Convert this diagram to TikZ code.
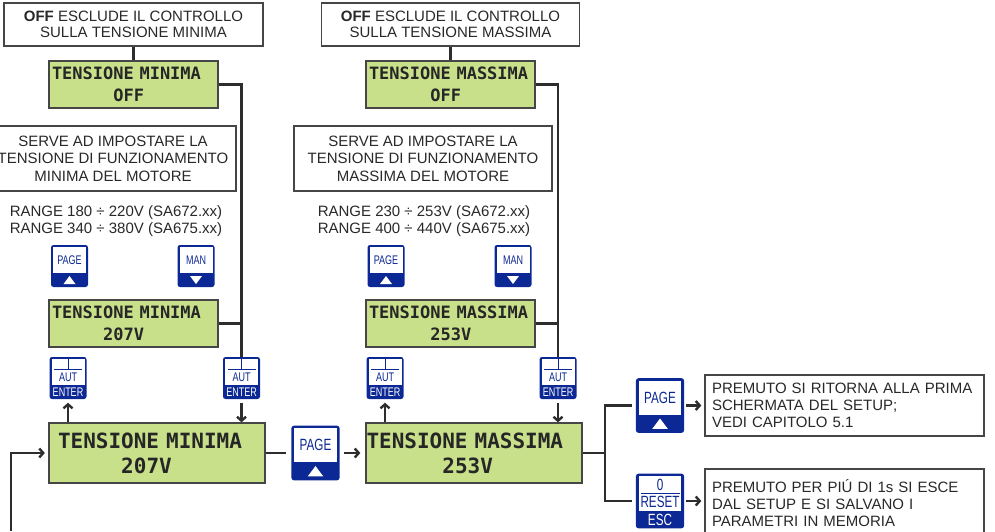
\documentclass[tikz,border=0pt]{standalone}
\usepackage{fontspec}
\setmainfont{Liberation Sans}
\newfontfamily\lcdfont{DejaVu Sans Mono}
\newfontfamily\keyfont[FakeStretch=0.72]{Liberation Sans}
\usetikzlibrary{arrows.meta}

\definecolor{keyblue}{RGB}{12,40,148}
\definecolor{lcdgreen}{RGB}{201,224,139}
\definecolor{lcdedge}{RGB}{70,70,70}
\definecolor{boxedge}{RGB}{70,70,70}
\definecolor{wiregray}{RGB}{45,45,45}
\definecolor{ink}{RGB}{40,40,40}

\newcommand\keypage[3]{%
\begin{scope}[shift={(#2)},scale=#3,transform shape]
\node[key] (#1) at (0,0) {};
\path[fill=white] (-16.5,-19) rectangle (16.5,7);
\node[keytxt,text=keyblue] at (0,-6) {PAGE};
\path[fill=white] (-6,18) -- (6,18) -- (0,10) -- cycle;
\end{scope}}

\newcommand\keyman[3]{%
\begin{scope}[shift={(#2)},scale=#3,transform shape]
\node[key] (#1) at (0,0) {};
\path[fill=white] (-16.5,-19) rectangle (16.5,7);
\node[keytxt,text=keyblue] at (0,-6) {MAN};
\path[fill=white] (-6,10) -- (6,10) -- (0,18) -- cycle;
\end{scope}}

\newcommand\keyenter[3]{%
\begin{scope}[shift={(#2)},scale=#3,transform shape]
\node[key] (#1) at (0,0) {};
\path[fill=white] (-16.5,-19) rectangle (16.5,7);
\path[draw=keyblue,line width=1pt] (0,-19) -- (0,-8.5) (-14,-8.5) -- (14,-8.5);
\node[keytxt,text=keyblue] at (0,-1) {AUT};
\node[keytxt,text=white] at (0,14) {ENTER};
\end{scope}}

\newcommand\keyreset[3]{%
\begin{scope}[shift={(#2)},scale=#3,transform shape]
\node[key] (#1) at (0,0) {};
\path[fill=white] (-16.5,-19) rectangle (16.5,8);
\node[keytxt,text=keyblue] at (0,-12.5) {0};
\path[draw=keyblue,line width=1pt] (-15,-6) -- (15,-6);
\node[keytxt,text=keyblue] at (0,1) {RESET};
\node[keytxt,text=white] at (0,14.5) {ESC};
\end{scope}}

\begin{document}
\begin{tikzpicture}[x=1pt, y=-1pt,
  box/.style={draw=boxedge, line width=1.3pt, align=center, text=ink, inner sep=0pt, font=\fontsize{15pt}{16pt}\selectfont},
  note/.style={box, align=left, text width=265pt, inner xsep=7pt, minimum height=61pt, font=\fontsize{15pt}{17pt}\selectfont},
  plain/.style={align=center, text=ink, inner sep=0pt, font=\fontsize{15pt}{17pt}\selectfont},
  lcd/.style={draw=lcdedge, line width=1.3pt, fill=lcdgreen, align=left, text=black!85, inner xsep=3pt, inner ysep=0pt, text width=163pt, minimum height=47pt, font=\lcdfont\bfseries\fontsize{17pt}{22pt}\selectfont},
  biglcd/.style={lcd, minimum height=60pt, font=\lcdfont\bfseries\fontsize{21pt}{25pt}\selectfont},
  key/.style={fill=keyblue, rounded corners=2.5pt, minimum width=37pt, minimum height=42pt, inner sep=0pt},
  keytxt/.style={inner sep=0pt, font=\keyfont\fontsize{12.5pt}{12.5pt}\selectfont},
  wire/.style={draw=wiregray, line width=2.4pt},
  >={Straight Barb[length=4pt,width=9pt]}]

\useasboundingbox (0,0) rectangle (995,531);

\node[box, minimum width=259pt, minimum height=43pt] (offmin) at (133.5,24.5) {{\bfseries OFF} ESCLUDE IL CONTROLLO\\SULLA TENSIONE MINIMA};

\node[lcd] (lcdoffmin) at (133.5,84.5) {TENSIONE MINIMA\\\phantom{XXXXXX}OFF};

\node[box, minimum width=246pt, minimum height=65pt, font=\fontsize{15pt}{17.5pt}\selectfont] (servemin) at (113,158.5) {SERVE AD IMPOSTARE LA\\TENSIONE DI FUNZIONAMENTO\\MINIMA DEL MOTORE};

\node[plain] (rangemin) at (116,221) {RANGE 180 ÷ 220V (SA672.xx)\\RANGE 340 ÷ 380V (SA675.xx)};

\keypage{pagemin}{69.5,266}{1}
\keyman{manmin}{196,266}{1}

\node[lcd] (lcdvalmin) at (133.5,323.5) {TENSIONE MINIMA\\\phantom{XXXXX}207V};

\keyenter{entminL}{68,378}{1}
\keyenter{entminR}{241.5,378}{1}

\node[biglcd, inner xsep=9pt, text width=198pt] (bigmin) at (157,453) {TENSIONE MINIMA\\\phantom{XXXXX}207V};

\keypage{pagemid}{315.5,453}{1.3}

\node[box, minimum width=258pt, minimum height=43pt] (offmax) at (450.5,24.5) {{\bfseries OFF} ESCLUDE IL CONTROLLO\\SULLA TENSIONE MASSIMA};

\node[lcd] (lcdoffmax) at (450.5,84.5) {TENSIONE MASSIMA\\\phantom{XXXXXX}OFF};

\node[box, minimum width=258pt, minimum height=65pt, font=\fontsize{15pt}{17.5pt}\selectfont] (servemax) at (423,158.5) {SERVE AD IMPOSTARE LA\\TENSIONE DI FUNZIONAMENTO\\MASSIMA DEL MOTORE};

\node[plain] (rangemax) at (424,221) {RANGE 230 ÷ 253V (SA672.xx)\\RANGE 400 ÷ 440V (SA675.xx)};

\keypage{pagemax}{386,266}{1}
\keyman{manmax}{513,266}{1}

\node[lcd] (lcdvalmax) at (450.5,323.5) {TENSIONE MASSIMA\\\phantom{XXXXXX}253V};

\keyenter{entmaxL}{385,378}{1}
\keyenter{entmaxR}{558,378}{1}

\node[biglcd, inner xsep=0.5pt, text width=215pt] (bigmax) at (474,453) {TENSIONE MASSIMA\\\phantom{XXXXXX}253V};

\keypage{pageend}{660,405.5}{1.3}
\keyreset{resetbtn}{660,501}{1.3}

\node[note] (note1) at (844.5,405.5) {PREMUTO SI RITORNA ALLA PRIMA\\SCHERMATA DEL SETUP;\\VEDI CAPITOLO 5.1};

\node[note, minimum height=68pt] (note2) at (844.5,503) {PREMUTO PER PIÚ DI 1s SI ESCE\\DAL SETUP E SI SALVANO I\\PARAMETRI IN MEMORIA};

\path[wire] (offmin) -- (lcdoffmin);
\path[wire] (lcdoffmin.east) -| (entminR.north);
\path[wire] (lcdvalmin.east) -- (lcdvalmin.east -| entminR.north);
\path[wire,->,shorten >=3.5pt] (entminL |- bigmin.north) -- (entminL.south);
\path[wire,->,shorten <=3.5pt] (entminR.south) -- (entminR |- bigmin.north);

\coordinate (entry) at (11,531);
\path[wire,->,shorten >=3.5pt] (entry) |- (bigmin.west);
\path[wire,shorten >=5pt] (bigmin.east) -- (pagemid.west);
\path[wire,->,shorten <=4pt,shorten >=5pt] (pagemid.east) -- (bigmax.west);

\path[wire] (offmax) -- (lcdoffmax);
\path[wire] (lcdoffmax.east) -| (entmaxR.north);
\path[wire] (lcdvalmax.east) -- (lcdvalmax.east -| entmaxR.north);
\path[wire,->,shorten >=3.5pt] (entmaxL |- bigmax.north) -- (entmaxL.south);
\path[wire,->,shorten <=3.5pt] (entmaxR.south) -- (entmaxR |- bigmax.north);

\coordinate (fork) at (605,453);
\path[wire] (bigmax.east) -- (fork);
\path[wire,shorten <=4pt,shorten >=4pt] (pageend.west) -| (fork) |- (resetbtn.west);
\path[wire,->,shorten <=2pt,shorten >=3pt] (pageend.east) -- (pageend.east -| note1.west);
\path[wire,->,shorten <=2pt,shorten >=3pt] (resetbtn.east) -- (resetbtn.east -| note2.west);

\end{tikzpicture}
\end{document}
